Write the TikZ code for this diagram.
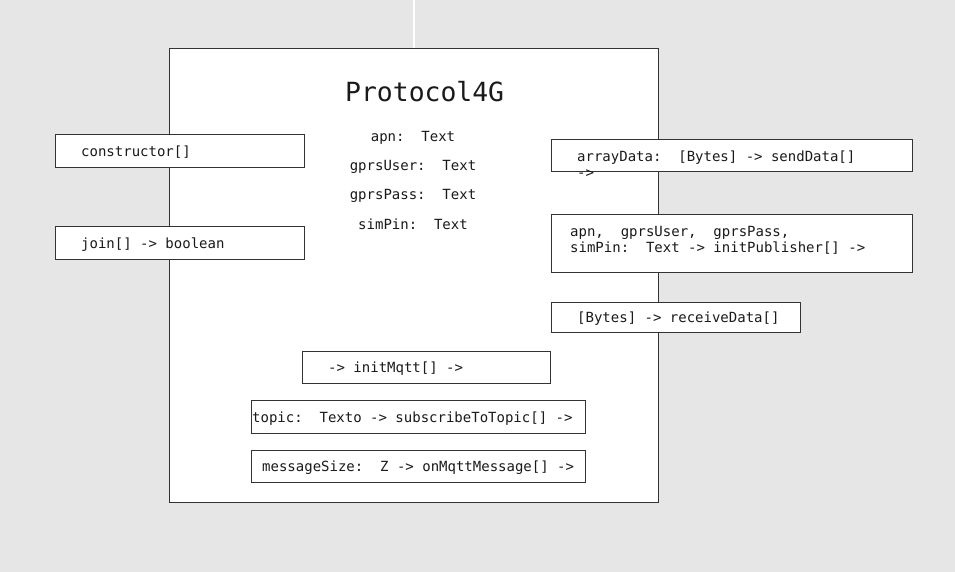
\documentclass[tikz,border=0pt]{standalone}
\usepackage{fontspec}
\newfontfamily\mono{DejaVu Sans Mono}
\definecolor{bg}{HTML}{E6E6E6}
\definecolor{edge}{HTML}{333333}
\definecolor{ink}{HTML}{1A1A1A}
\begin{document}
\begin{tikzpicture}[x=1pt,y=-1pt,
  box/.style={draw=edge, fill=white, line width=1pt, inner sep=0pt, outer sep=0pt, anchor=north west},
  lbl/.style={text=ink, inner sep=0pt, anchor=base west, font=\mono\fontsize{14}{16}\selectfont\frenchspacing},
  attr/.style={text=ink, inner sep=0pt, anchor=base, font=\mono\fontsize{14}{16}\selectfont\frenchspacing},
  ttl/.style={text=ink, inner sep=0pt, anchor=base west, font=\mono\fontsize{26.4}{30}\selectfont}]
\useasboundingbox (0,0) rectangle (955,572);
\fill[bg] (0,0) rectangle (955,572);
\node[box, minimum width=489, minimum height=453] (main) at (169,49) {};
\coordinate (top) at (413.5,0);
\draw[white, line width=2pt] (top) -- (main.north);
\draw[edge, line width=1pt] (main.north west) rectangle (main.south east);
% title and attributes
\node[ttl] (title) at (345,102) {Protocol4G};
\node[attr] (a1) at (413,142) {apn:\ \ Text};
\node[attr] (a2) at (413,171) {gprsUser:\ \ Text};
\node[attr] (a3) at (413,200) {gprsPass:\ \ Text};
\node[attr] (a4) at (413,229) {simPin:\ \ Text};
% left boxes
\node[box, minimum width=249, minimum height=33] (ctor) at (55,135) {};
\node[lbl] (ctort) at (81,157) {constructor[]};
\node[box, minimum width=249, minimum height=33] (join) at (55,226) {};
\node[lbl] (joint) at (81,248) {join[] -> boolean};
% right boxes
\node[box, minimum width=361, minimum height=32] (send) at (551,140) {};
\node[lbl] (sendt1) at (577,162) {arrayData:\ \ [Bytes] -> sendData[]};
\node[lbl] (sendt2) at (577,178) {->};
\node[box, minimum width=361, minimum height=58] (pub) at (551,214) {};
\node[lbl] (pubt1) at (570,236) {apn,\ \ gprsUser,\ \ gprsPass,};
\node[lbl] (pubt2) at (570,252) {simPin:\ \ Text -> initPublisher[] ->};
\node[box, minimum width=249, minimum height=30] (recv) at (551,302) {};
\node[lbl] (recvt) at (577,322) {[Bytes] -> receiveData[]};
% bottom boxes
\node[box, minimum width=248, minimum height=32] (mqtt) at (302,351) {};
\node[lbl] (mqttt) at (328,372) {-> initMqtt[] ->};
\node[box, minimum width=334, minimum height=33] (sub) at (251,400) {};
\node[lbl] (subt) at (252,422) {topic:\ \ Texto -> subscribeToTopic[] ->};
\node[box, minimum width=334, minimum height=32] (msg) at (251,450) {};
\node[lbl] (msgt) at (262,471) {messageSize:\ \ Z -> onMqttMessage[] ->};
\end{tikzpicture}
\end{document}
